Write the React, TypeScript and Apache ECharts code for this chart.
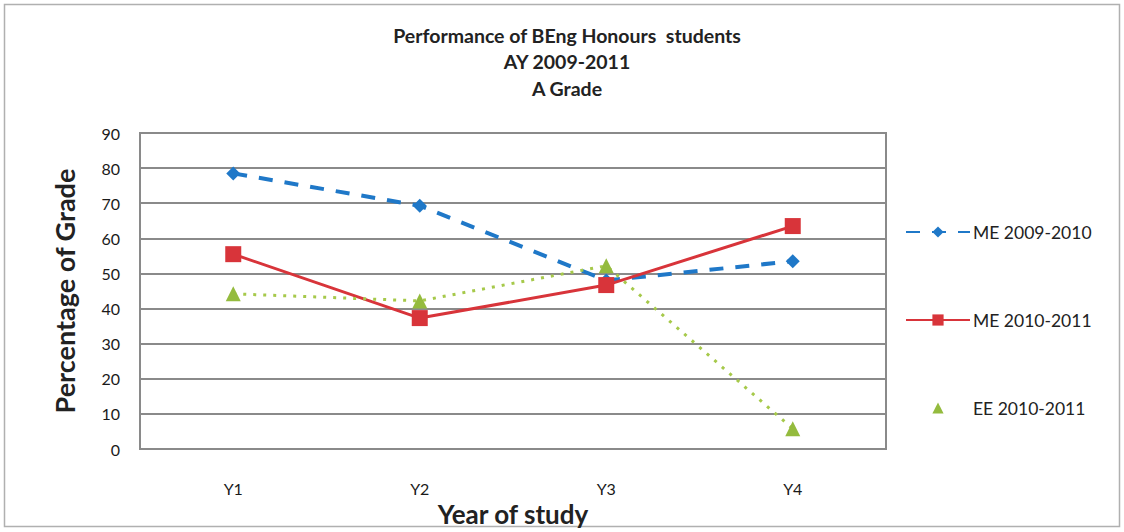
import React, { useEffect, useRef } from "react";
import * as echarts from "echarts";

const categories = ["Y1", "Y2", "Y3", "Y4"];
const me0910 = [78.5, 69.3, 48, 53.5];
const me1011 = [55.5, 37.3, 46.7, 63.5];
const ee1011 = [44.2, 42.2, 52.2, 5.8];
const titleLines = ["Performance of BEng Honours  students", "AY 2009-2011", "A Grade"];

const FONT = "Lato, 'Open Sans', sans-serif";

export default function App() {
  const ref = useRef<HTMLDivElement>(null);
  useEffect(() => {
    document.body.style.margin = "0";
    const chart = echarts.init(ref.current!, null, { renderer: "svg" });
    chart.setOption({
      animation: false,
      backgroundColor: "#ffffff",
      textStyle: { fontFamily: FONT },
      title: {
        text: titleLines.join("\n"),
        left: 562,
        textAlign: "center",
        top: 17,
        textStyle: { fontSize: 19.5, fontWeight: "bold", color: "#222", lineHeight: 26.5, fontFamily: FONT },
      },
      graphic: [
        {
          type: "rect",
          shape: { x: 4.5, y: 4.5, width: 1115, height: 522 },
          style: { fill: "none", stroke: "#b0b0b0", lineWidth: 1.5 },
          silent: true,
        },
      ],
      legend: {
        orient: "vertical",
        left: 900,
        top: 218,
        itemWidth: 64,
        itemHeight: 14,
        itemGap: 70,
        textStyle: { fontSize: 17.5, color: "#222", fontFamily: FONT, padding: [0, 0, 0, -2] },
        data: [
          { name: "ME 2009-2010" },
          { name: "ME 2010-2011" },
          { name: "EE 2010-2011", lineStyle: { opacity: 0 } },
        ],
      },
      grid: {
        left: 140,
        right: 238,
        top: 133,
        bottom: 71,
        show: true,
        borderColor: "#8a8a8a",
        borderWidth: 2,
      },
      xAxis: {
        type: "category",
        data: categories,
        boundaryGap: true,
        axisLine: { show: false },
        axisTick: { show: false },
        axisLabel: { fontSize: 16, color: "#1a1a1a", margin: 31, fontFamily: FONT },
        name: "Year of study",
        nameLocation: "middle",
        nameGap: 45,
        nameTextStyle: { fontSize: 26, fontWeight: "bold", color: "#222", fontFamily: FONT },
      },
      yAxis: {
        type: "value",
        min: 0,
        max: 90,
        interval: 10,
        axisLine: { show: false },
        axisTick: { show: false },
        splitLine: { lineStyle: { color: "#8a8a8a", width: 2 } },
        axisLabel: { fontSize: 16, color: "#1a1a1a", margin: 20, fontFamily: FONT },
        name: "Percentage of Grade",
        nameLocation: "middle",
        nameGap: 62,
        nameTextStyle: { fontSize: 27, fontWeight: "bold", color: "#222", fontFamily: FONT },
      },
      series: [
        {
          name: "ME 2009-2010",
          type: "line",
          data: me0910,
          symbol: "diamond",
          symbolSize: 14,
          color: "#1f78c8",
          lineStyle: { color: "#1f78c8", width: 4, type: [14, 12] },
          itemStyle: { color: "#1f78c8" },
        },
        {
          name: "ME 2010-2011",
          type: "line",
          data: me1011,
          symbol: "rect",
          symbolSize: 16,
          color: "#d8343a",
          lineStyle: { color: "#d8343a", width: 3, type: "solid" },
          itemStyle: { color: "#d8343a" },
        },
        {
          name: "EE 2010-2011",
          type: "line",
          data: ee1011,
          symbol: "triangle",
          symbolSize: 15,
          color: "#94bb3e",
          lineStyle: { color: "#a6c94a", width: 3, type: [3, 7] },
          itemStyle: { color: "#94bb3e" },
        },
      ],
    });
    return () => chart.dispose();
  }, []);
  return <div ref={ref} style={{ width: 1124, height: 532 }} />;
}
